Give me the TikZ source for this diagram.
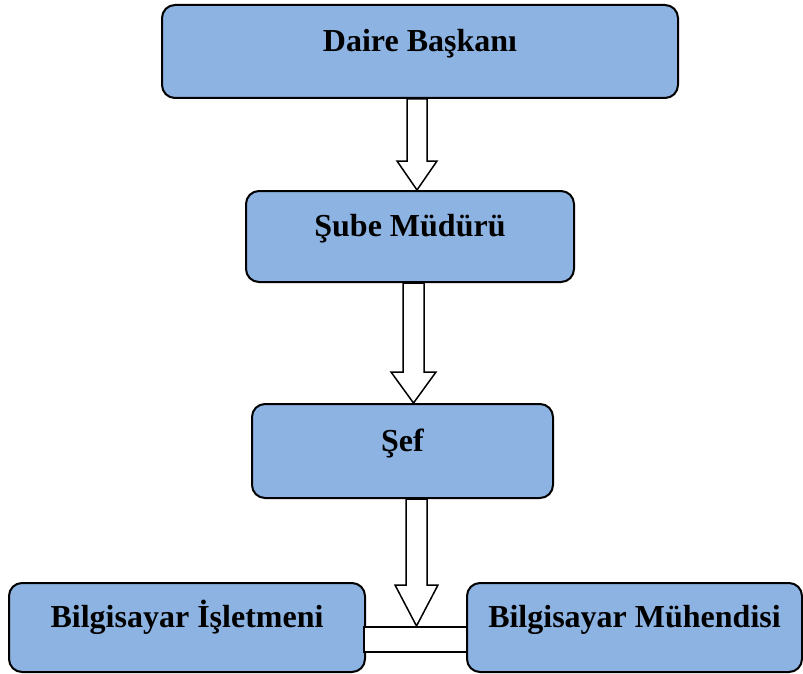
\documentclass[tikz,border=0pt]{standalone}
\usepackage{fontspec}
\setmainfont{Liberation Serif}
\definecolor{boxblue}{RGB}{141,179,226}

\begin{document}
\begin{tikzpicture}[x=0.5pt,y=-0.5pt]

	\useasboundingbox (0,0) rectangle (803,674);
	
	\tikzset{post/.style=
		{draw,line width=1pt,fill=boxblue,rounded corners=6.5pt,inner sep=0pt,
			font=\bfseries\fontsize{16}{19}\selectfont,text height=8pt,text depth=8pt}}
	\tikzset{hollow/.style={line width=0.75pt,fill=white}}
	
	% kutular
	\node[post,minimum width=258pt,minimum height=46.5pt] (daire) at (420,51.5) {Daire Başkanı};
	\node[post,minimum width=164pt,minimum height=45.5pt] (sube) at (410,236.5) {Şube Müdürü};
	\node[post,minimum width=150.5pt,minimum height=47pt] (sef) at (402.5,451) {Şef};
	\node[post,minimum width=178pt,minimum height=44.5pt] (islet) at (187,627.5) {Bilgisayar İşletmeni};
	\node[post,minimum width=167.5pt,minimum height=44.5pt] (muh) at (634.5,627.5) {Bilgisayar Mühendisi};
	\node[draw,line width=1pt,fill=white,inner sep=0pt,minimum width=51.5pt,minimum height=12.5pt] (bar) at (415.5,639.5) {};
	
	% oklar
	\draw[hollow] (407,0 |- daire.south) -- (407,161) -- (397,161) -- (417,0 |- sube.north)
		-- (437,161) -- (427,161) -- (427,0 |- daire.south) -- cycle;
	\draw[hollow] (403,0 |- sube.south) -- (403,372) -- (391,372) -- (413.5,0 |- sef.north)
		-- (436,372) -- (424,372) -- (424,0 |- sube.south) -- cycle;
	\draw[hollow] (406,0 |- sef.south) -- (406,585) -- (395,585) -- (416.5,0 |- bar.north)
		-- (438,585) -- (427,585) -- (427,0 |- sef.south) -- cycle;
\end{tikzpicture}
\end{document}
